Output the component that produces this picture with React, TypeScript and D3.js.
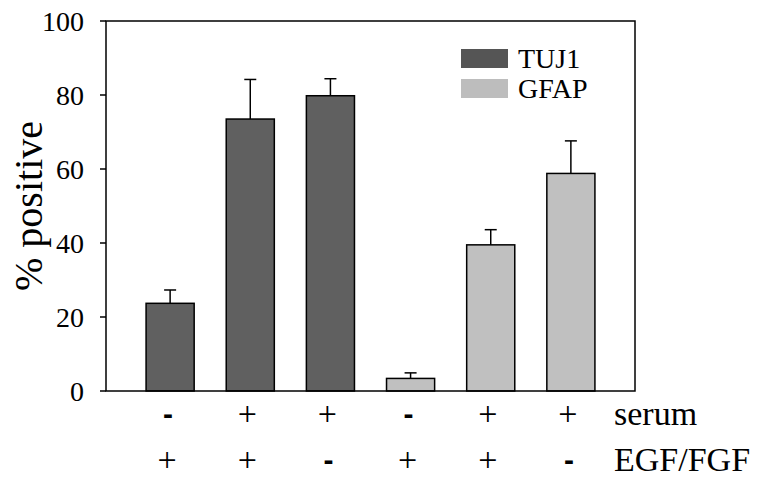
import * as d3 from "d3";

const conditions = ["a", "b", "c", "d", "e", "f"];
const markers = ["TUJ1", "TUJ1", "TUJ1", "GFAP", "GFAP", "GFAP"];
const means = [23.7, 73.5, 79.8, 3.4, 39.5, 58.8];
const errors = [3.6, 10.7, 4.6, 1.5, 4.1, 8.8];
const serum = ["-", "+", "+", "-", "+", "+"];
const egfFgf = ["+", "+", "-", "+", "+", "-"];
const yTicks = [0, 20, 40, 60, 80, 100];
const legendKeys = ["TUJ1", "GFAP"];

const colors = { TUJ1: "#606060", GFAP: "#c0c0c0" };
const legendColors = { TUJ1: "#555555", GFAP: "#bdbdbd" };
const serif = '"Liberation Serif"';

// body keeps its 8px margin, so the svg is shifted back by it
const pageMargin = 8;
const width = 760;
const height = 487;
const left = 106;
const right = 635;
const top = 21;
const bottom = 391;

const x = d3
  .scaleBand()
  .domain(conditions)
  .range([left, right])
  .paddingInner(0.4)
  .paddingOuter(0.5);

const y = d3.scaleLinear().domain([0, 100]).range([bottom, top]);

const rows = [
  { signs: serum, label: "serum", yPos: 425 },
  { signs: egfFgf, label: "EGF/FGF", yPos: 471 },
];

export default function App() {
  const cx = (d) => x(d) + x.bandwidth() / 2;

  return (
    <svg width={width - pageMargin} height={height - pageMargin}>
      <g transform={`translate(${-pageMargin},${-pageMargin})`}>
        {/* bars */}
        {conditions.map((d, i) => (
          <rect
            key={d}
            x={x(d)}
            y={y(means[i])}
            width={x.bandwidth()}
            height={y(0) - y(means[i])}
            fill={colors[markers[i]]}
            stroke="#000"
            strokeWidth={1.5}
          />
        ))}

        {/* error bars, upper only */}
        {conditions.map((d, i) => (
          <g key={d} stroke="#000" strokeWidth={1.5}>
            <line x1={cx(d)} x2={cx(d)} y1={y(means[i])} y2={y(means[i] + errors[i])} />
            <line x1={cx(d) - 6} x2={cx(d) + 6} y1={y(means[i] + errors[i])} y2={y(means[i] + errors[i])} />
          </g>
        ))}

        {/* frame */}
        <rect x={left} y={top} width={right - left} height={bottom - top} fill="none" stroke="#000" strokeWidth={1.5} />

        {/* y axis ticks */}
        {yTicks.map((t) => (
          <g key={t} transform={`translate(${left},${y(t)})`}>
            <line x1={-6} x2={0} stroke="#000" strokeWidth={1.5} />
            <text x={-22} dy="0.34em" textAnchor="end" fontSize={28} style={{ fontFamily: serif }}>
              {t}
            </text>
          </g>
        ))}

        {/* y label */}
        <text
          transform={`translate(42,${(top + bottom) / 2}) rotate(-90)`}
          textAnchor="middle"
          fontSize={40}
          style={{ fontFamily: serif }}
        >
          % positive
        </text>

        {/* condition rows */}
        {rows.map((row) => (
          <g key={row.label}>
            {row.signs.map((s, i) =>
              s === "+" ? (
                <text key={i} x={cx(conditions[i]) - 3} y={row.yPos} textAnchor="middle" fontSize={34} style={{ fontFamily: serif }}>
                  +
                </text>
              ) : (
                <text
                  key={i}
                  x={cx(conditions[i]) - 2}
                  y={row.yPos - 1}
                  textAnchor="middle"
                  fontSize={30}
                  fontWeight="bold"
                  style={{ fontFamily: '"Liberation Sans"' }}
                >
                  -
                </text>
              )
            )}
            <text x={614} y={row.yPos} fontSize={34} style={{ fontFamily: serif }}>
              {row.label}
            </text>
          </g>
        ))}

        {/* legend */}
        {legendKeys.map((k, i) => (
          <g key={k} transform={`translate(461,${49 + i * 30})`}>
            <rect width={47} height={19} fill={legendColors[k]} />
            <text x={57} y={19} fontSize={28} style={{ fontFamily: serif }}>
              {k}
            </text>
          </g>
        ))}
      </g>
    </svg>
  );
}
